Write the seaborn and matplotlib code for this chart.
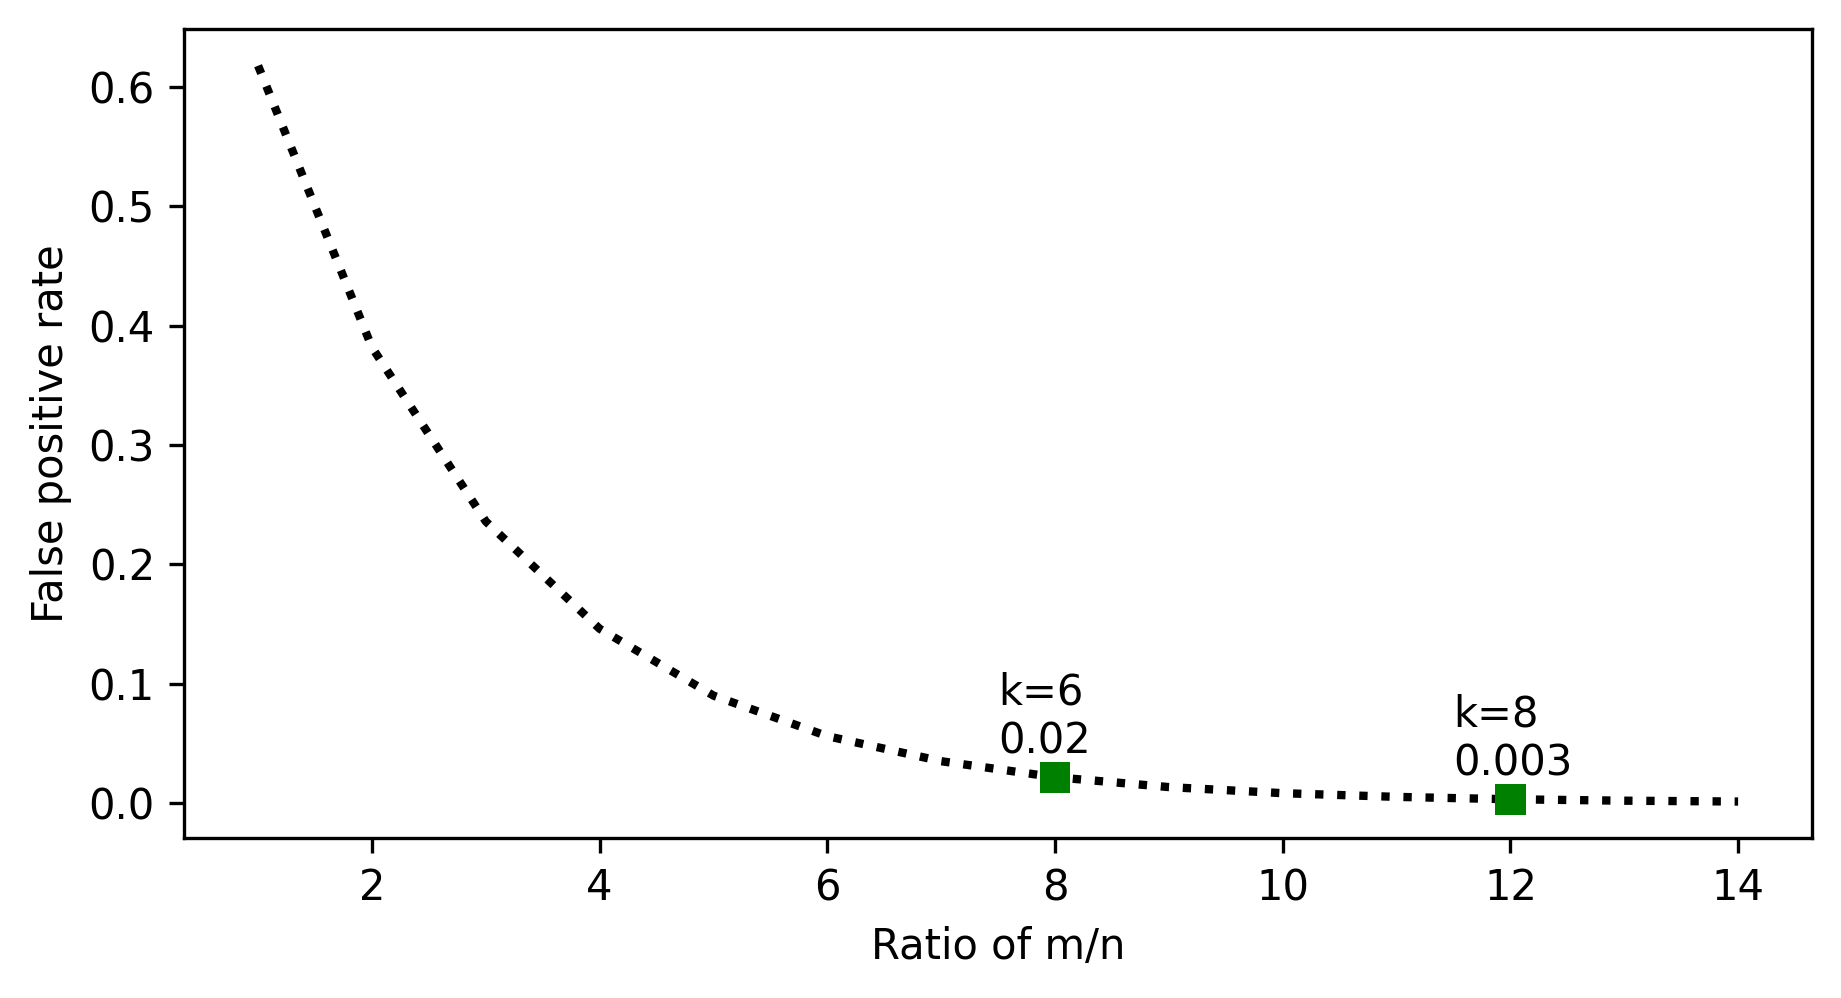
import matplotlib
matplotlib.use("Agg")
import matplotlib.pyplot as plt
import seaborn as sns
import pandas as pd

ratios = [1, 2, 3, 4, 5, 6, 7, 8, 9, 10, 11, 12, 13, 14]
fp_rates = [0.618, 0.382, 0.236, 0.146, 0.090, 0.056, 0.035, 0.0216,
            0.0133, 0.0082, 0.0051, 0.0031, 0.0019, 0.0012]

marked_ratios = [8, 12]
marked_fp = [0.0216, 0.0031]
marked_labels = ["k=6\n0.02", "k=8\n0.003"]

plt.rcParams['font.family'] = ['DejaVu Sans']
fig = plt.figure(figsize=(1841 / 300, 998 / 300), dpi=300)
ax = fig.add_axes([0.1, 0.160, 0.8843, 0.811])

df = pd.DataFrame({"ratio": ratios, "fp": fp_rates})
sns.lineplot(data=df, x="ratio", y="fp", ax=ax, color="black",
             linestyle=":", linewidth=2)

mdf = pd.DataFrame({"ratio": marked_ratios, "fp": marked_fp})
sns.scatterplot(data=mdf, x="ratio", y="fp", ax=ax, marker="s",
                color="green", s=55, edgecolor="none", zorder=3)

for xr, yv, lab in zip(marked_ratios, marked_fp, marked_labels):
    ax.text(xr - 0.5, yv + 0.02, lab, fontsize=10)

ax.set_xlabel("Ratio of m/n")
ax.set_ylabel("False positive rate")
ax.set_xticks([2, 4, 6, 8, 10, 12, 14])

fig.savefig("out.png", dpi=300)
